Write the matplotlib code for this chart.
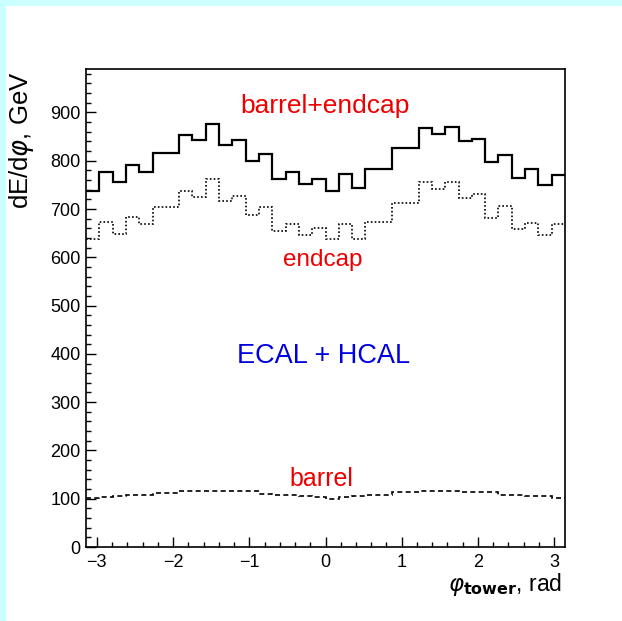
import numpy as np
import matplotlib
matplotlib.use("Agg")
import matplotlib.pyplot as plt
from matplotlib.patches import Rectangle
from matplotlib.ticker import MultipleLocator

plt.rcParams['font.family'] = ['Liberation Sans', 'DejaVu Sans']
plt.rcParams['mathtext.fontset'] = 'dejavusans'

# 36 phi bins of 10 degrees over [-pi, pi]
n_bins = 36
phi_min, phi_max = -np.pi, np.pi

# Energy per phi bin, GeV
total = [738, 777, 756, 792, 777, 817, 817, 854, 842, 876, 832, 842,
         799, 813, 763, 776, 751, 763, 737, 773, 744, 783, 783, 827,
         827, 868, 856, 870, 841, 846, 798, 812, 765, 782, 750, 770]
endcap = [637, 674, 648, 684, 669, 705, 705, 737, 725, 763, 716, 727,
          687, 705, 654, 670, 647, 661, 637, 668, 637, 674, 674, 712,
          712, 756, 741, 756, 723, 731, 681, 706, 659, 671, 647, 668]
barrel = [101, 104, 106, 107, 108, 111, 112, 116, 117, 117, 116, 116,
          115, 109, 108, 107, 106, 104, 100, 104, 106, 107, 108, 113,
          114, 115, 115, 115, 114, 114, 113, 108, 107, 106, 105, 102]

x_major = [-3, -2, -1, 0, 1, 2, 3]
y_major = [0, 100, 200, 300, 400, 500, 600, 700, 800, 900]
y_max = 990

edges = np.linspace(phi_min, phi_max, n_bins + 1)

fig = plt.figure(figsize=(6.22, 6.21), dpi=100, facecolor='white')

# canvas border strips
cyan = '#ccffff'
fig.patches.append(Rectangle((0, 0), 6 / 622, 1, transform=fig.transFigure,
                             facecolor=cyan, edgecolor='none', zorder=0))
fig.patches.append(Rectangle((0, 1 - 6 / 621), 1, 6 / 621, transform=fig.transFigure,
                             facecolor=cyan, edgecolor='none', zorder=0))

ax = fig.add_axes([86 / 622, 74 / 621, 479 / 622, 478 / 621])
ax.set_facecolor('white')

ax.stairs(total, edges, baseline=None, color='black', linewidth=1.6)
ax.stairs(endcap, edges, baseline=None, color='black', linewidth=1.2,
          linestyle=(0, (1, 1.3)))
ax.stairs(barrel, edges, baseline=None, color='black', linewidth=1.2,
          linestyle=(0, (3, 2)))

ax.set_xlim(phi_min, phi_max)
ax.set_ylim(0, y_max)
ax.set_xticks(x_major)
ax.set_xticklabels(['\u22123', '\u22122', '\u22121', '0', '1', '2', '3'])
ax.set_yticks(y_major)
ax.xaxis.set_minor_locator(MultipleLocator(0.2))
ax.yaxis.set_minor_locator(MultipleLocator(20))
ax.tick_params(which='both', direction='in', top=False, right=False,
               labelsize=13, width=1.0, color='black')
ax.tick_params(which='major', length=7)
ax.tick_params(which='minor', length=3.6)
ax.tick_params(axis='x', pad=5)
ax.tick_params(axis='y', pad=4)
for sp in ax.spines.values():
    sp.set_linewidth(1.2)

ax.text(0, 898, 'barrel+endcap', color='#ee0000', fontsize=19,
        ha='center', va='baseline')
ax.text(-0.03, 583, 'endcap', color='#ee0000', fontsize=17.5,
        ha='center', va='baseline')
ax.text(-0.03, 381, 'ECAL + HCAL', color='#0000dd', fontsize=19.5,
        ha='center', va='baseline')
ax.text(-0.05, 126, 'barrel', color='#ee0000', fontsize=18,
        ha='center', va='baseline')

fig.text(22 / 622, 1 - 71 / 621, r'dE/d$\varphi$, GeV', rotation=90,
         fontsize=18.5, ha='center', va='top')
fig.text(562 / 622, (621 - 591) / 621, r'$\varphi_{\mathbf{tower}}$, rad',
         fontsize=16.5, ha='right', va='baseline')

fig.savefig('out.png', dpi=100, facecolor=fig.get_facecolor())
